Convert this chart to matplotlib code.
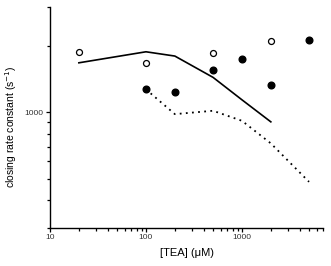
import numpy as np
import matplotlib
matplotlib.use('Agg')
import matplotlib.pyplot as plt
from matplotlib.ticker import LogLocator, NullFormatter, FixedLocator, FixedFormatter

plt.rcParams['font.family'] = ['Liberation Sans', 'DejaVu Sans']

# open circles
tea_open = [20, 100, 500, 2000]
rate_open = [1880, 1676, 1849, 2102]

# filled circles
tea_filled = [100, 200, 500, 1000, 2000, 5000]
rate_filled = [1275, 1236, 1549, 1742, 1329, 2124]

# solid line
tea_solid = [20, 100, 200, 500, 1000, 2000]
rate_solid = [1676, 1880, 1798, 1440, 1140, 906]

# dotted line
tea_dot = [100, 200, 500, 1000, 2000, 5000]
rate_dot = [1271, 982, 1017, 916, 724, 485]

fig = plt.figure(figsize=(3.31, 2.66), dpi=100)
ax = fig.add_axes([0.151, 0.143, 0.825, 0.831])

ax.plot(tea_solid, rate_solid, color='k', lw=1.2)
ax.plot(tea_dot, rate_dot, color='k', lw=1.3, linestyle=(0, (1, 2.4)))
ax.plot(tea_open, rate_open, 'o', ms=4.3, mfc='white', mec='k', mew=0.9)
ax.plot(tea_filled, rate_filled, 'o', ms=4.8, mfc='k', mec='k')

ax.set_xscale('log')
ax.set_yscale('log')
ax.set_xlim(10, 7000)
ax.set_ylim(300, 3000)

ax.spines['top'].set_visible(False)
ax.spines['right'].set_visible(False)
for s in ['left', 'bottom']:
    ax.spines[s].set_linewidth(1.0)

ax.xaxis.set_major_locator(FixedLocator([10, 100, 1000]))
ax.xaxis.set_major_formatter(FixedFormatter(['10', '100', '1000']))
ax.xaxis.set_minor_locator(LogLocator(base=10, subs=np.arange(2, 10)))
ax.xaxis.set_minor_formatter(NullFormatter())

ax.yaxis.set_major_locator(FixedLocator([1000]))
ax.yaxis.set_major_formatter(FixedFormatter(['1000']))
ax.yaxis.set_minor_locator(FixedLocator([300, 400, 500, 600, 700, 800, 900, 2000, 3000]))
ax.yaxis.set_minor_formatter(NullFormatter())

ax.tick_params(which='major', length=3, width=0.9, labelsize=6, pad=1.5, labelcolor='#333333')
ax.tick_params(which='minor', length=2.4, width=0.9)

ax.set_xlabel('[TEA] (\u03bcM)', fontsize=8, labelpad=5)
ax.set_ylabel('closing rate constant (s$^{-1}$)', fontsize=7.5, labelpad=4)
ax.yaxis.set_label_coords(-0.115, 0.46)

fig.savefig('out.png', dpi=100)
